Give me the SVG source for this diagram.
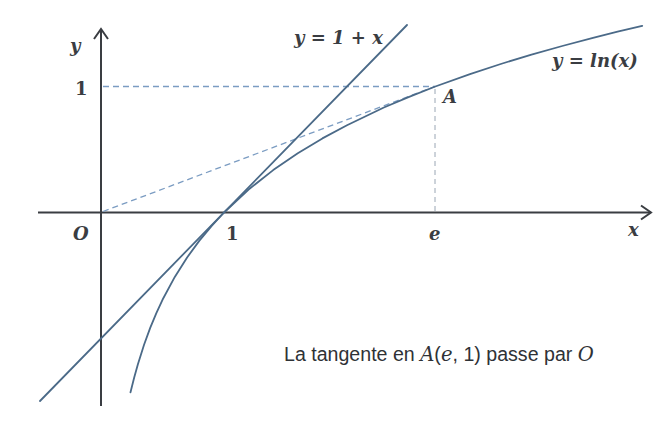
<svg xmlns="http://www.w3.org/2000/svg" width="665" height="436" viewBox="0 0 665 436">
<defs>
<style>
.axis{stroke:#3a3d42;stroke-width:2;fill:none}
.curve{stroke:#4b6a88;stroke-width:1.8;fill:none;stroke-linejoin:round;stroke-linecap:round}
.dash{stroke:#7b9cc2;stroke-width:1.3;fill:none;stroke-dasharray:6 4}
.dashv{stroke:#9aa6b4;stroke-width:1;fill:none;stroke-dasharray:5 4}
.m{font-family:"DejaVu Serif","Liberation Serif",serif;font-style:italic;font-weight:bold;font-size:18px;fill:#3a3d42}
.n{font-family:"DejaVu Serif","Liberation Serif",serif;font-weight:bold;font-size:18px;fill:#3a3d42}
.cap{font-family:"Liberation Sans","Noto Sans",sans-serif;font-size:19.6px;fill:#2f3236}
.capi{font-family:"DejaVu Serif","Liberation Serif",serif;font-style:italic}
</style>
</defs>
<rect width="665" height="436" fill="#ffffff"/>
<g id="axes">
<line class="axis" x1="38" y1="212.5" x2="651" y2="212.5"/>
<polyline class="axis" points="641,205.5 651,212.5 641,219.5"/>
<line class="axis" x1="101" y1="406" x2="101" y2="29"/>
<polyline class="axis" points="94,39 101,29 108,39"/>
</g>
<g id="guides">
<line class="dash" x1="103" y1="86.5" x2="435" y2="86.5"/>
<line class="dashv" x1="435" y1="89" x2="435" y2="211"/>
<line class="dash" x1="103" y1="211.5" x2="435" y2="86.5"/>
</g>
<g id="line">
<line class="curve" x1="40" y1="401" x2="407" y2="25"/>
</g>
<g id="ln">
<polyline class="curve" points="130.5,392.3 131.75,387.2 134.2,377.5 137.9,364.2 144.05,344.8 150.2,327.9 156.35,313.1 162.5,299.8 174.8,276.9 187.1,257.5 199.4,240.6 211.7,225.8 224,212.5 248.6,189.5 273.2,170.1 297.8,153.3 322.4,138.4 347,125.2 383.9,107.5 408.5,97.1 435.3,86.5 470,74.1 500.75,64 531.5,54.6 562.25,46 593,37.8 617.6,31.7 642.2,25.8"/>
</g>
<g id="labels">
<text class="m" x="70" y="52">y</text>
<text class="n" x="75" y="95">1</text>
<text class="m" x="73" y="240">O</text>
<text class="n" x="226" y="240">1</text>
<text class="m" x="429" y="240">e</text>
<text class="m" x="628" y="236">x</text>
<text class="m" x="443" y="103">A</text>
<text class="m" x="294" y="44">y = 1 + x</text>
<text class="m" x="552" y="67">y = ln(x)</text>
<text class="cap" x="284" y="361">La tangente en <tspan class="capi">A</tspan>(<tspan class="capi">e</tspan>, 1) passe par <tspan class="capi">O</tspan></text>
</g>
</svg>
